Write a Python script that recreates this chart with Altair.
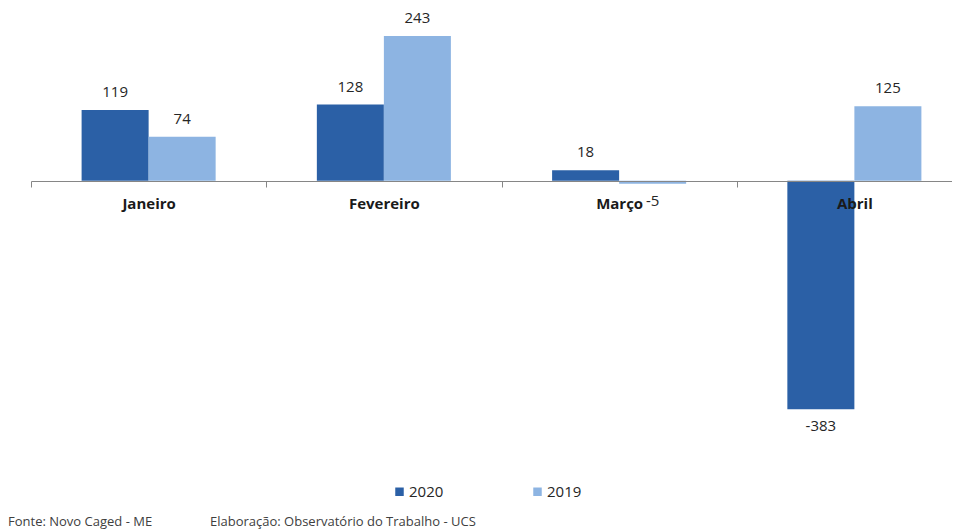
import altair as alt
import pandas as pd

meses = ["Janeiro", "Fevereiro", "Março", "Abril"]
anos = ["2020", "2019"]
valores_2020 = [119, 128, 18, -383]
valores_2019 = [74, 243, -5, 125]
cores = ["#2B60A6", "#8DB4E2"]
fonte = ["Fonte: Novo Caged - ME"]
elaboracao = ["Elaboração: Observatório do Trabalho - UCS"]

rows = []
for i, m in enumerate(meses):
    rows.append({"mes": m, "ano": "2020", "valor": valores_2020[i]})
    rows.append({"mes": m, "ano": "2019", "valor": valores_2019[i]})
df = pd.DataFrame(rows)

FONT = "Open Sans"

x_enc = alt.X(
    "mes:N",
    sort=meses,
    scale=alt.Scale(paddingInner=0, paddingOuter=0),
    axis=alt.Axis(
        title=None,
        offset=-286,
        tickBand="extent",
        labelAngle=0,
        labelFont=FONT,
        labelFontWeight="bold",
        labelFontSize=15,
        labelColor="#1a1a1a",
        labelBaseline="middle",
        labelPadding=16,
        tickSize=6,
        tickColor="#868686",
        domainColor="#868686",
        domainWidth=1,
        grid=False,
        zindex=1,
    ),
)
xoff_enc = alt.XOffset("ano:N", sort=anos, scale=alt.Scale(paddingOuter=0.755, paddingInner=0))
y_enc = alt.Y("valor:Q", scale=alt.Scale(domain=[-480, 290], nice=False), axis=None)

base = alt.Chart(df).transform_calculate(rotulo="'' + datum.valor")

bars = base.mark_bar().encode(
    x=x_enc,
    xOffset=xoff_enc,
    y=y_enc,
    color=alt.Color(
        "ano:N",
        sort=anos,
        scale=alt.Scale(domain=anos, range=cores),
        legend=alt.Legend(
            title=None,
            orient="none",
            legendX=361,
            legendY=476,
            direction="horizontal",
            symbolType="square",
            symbolSize=72,
            symbolStrokeWidth=0,
            labelFont=FONT,
            labelFontSize=15,
            labelColor="#262626",
            labelOffset=2,
            columnPadding=86,
        ),
    ),
)

pos = base.transform_filter("datum.valor >= 0").mark_text(
    dy=-18, baseline="middle", font=FONT, fontSize=15, color="#262626"
).encode(x=x_enc, xOffset=xoff_enc, y=y_enc, text="rotulo:N")

neg = base.transform_filter("datum.valor < 0").mark_text(
    dy=17, baseline="middle", font=FONT, fontSize=15, color="#262626"
).encode(x=x_enc, xOffset=xoff_enc, y=y_enc, text="rotulo:N")

foot1 = alt.Chart(pd.DataFrame({"t": fonte})).mark_text(
    align="left", baseline="alphabetic", font=FONT, fontSize=13, color="#404040"
).encode(x=alt.value(-23), y=alt.value(518), text="t:N")

foot2 = alt.Chart(pd.DataFrame({"t": elaboracao})).mark_text(
    align="left", baseline="alphabetic", font=FONT, fontSize=13, color="#404040"
).encode(x=alt.value(179), y=alt.value(518), text="t:N")

chart = (
    alt.layer(bars, pos, neg, foot1, foot2)
    .properties(
        width=941,
        height=459,
        autosize=alt.AutoSizeParams(type="none"),
        padding={"left": 23, "top": 0, "right": -20, "bottom": 62},
    )
    .configure_view(stroke=None)
)

chart.save("out.html", embed_options={"renderer": "svg", "actions": False})
